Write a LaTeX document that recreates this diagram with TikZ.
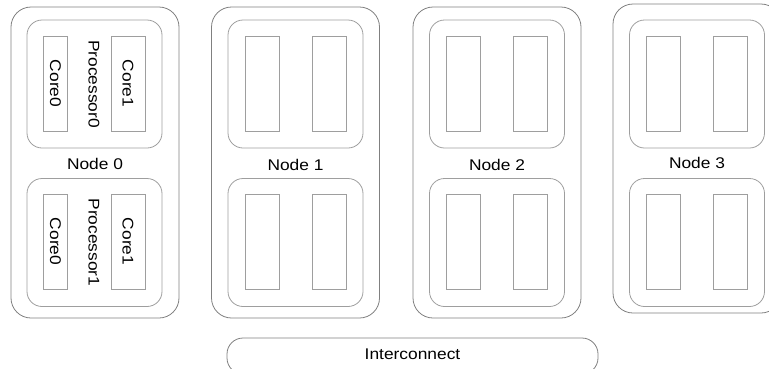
\documentclass[tikz,border=0pt]{standalone}
\usepackage{fontspec}
\setmainfont[FakeStretch=1.12]{Liberation Sans}
\usetikzlibrary{positioning}

\begin{document}
\begin{tikzpicture}[
        x=1pt,
        y=-1pt,
        font=\fontsize{15.5}{18}\selectfont,
        line width=0.8pt,
        machine/.style={draw=black!50, rounded corners=20pt, minimum width=168pt, minimum height=311pt, inner sep=0pt},
        socket/.style={draw=black!38, rounded corners=15pt, minimum width=135pt, minimum height=128pt, inner sep=0pt},
        core/.style={draw=black!38, minimum width=34pt, minimum height=95pt, inner sep=0pt},
        vtext/.style={rotate=-90, inner sep=0pt},
        link/.style={draw=black!50, rounded corners=16pt, minimum width=371pt, minimum height=36pt, inner sep=0pt}
    ]
        \useasboundingbox (0,0) rectangle (769,368);

        % Node 0, the one with its parts spelled out
        \node[machine] (node0) at (95,162.5) {};
        \node (lab0) at (95,164) {Node 0};
        \node[socket] (proc0a) at (94.5,84) {};
        \node[core, minimum width=24.5pt] (core0a0) at (55.5,83.5) {};
        \node[core] (core0a1) at (128,83.5) {};
        \node[vtext] (name0a) at (94,84) {Processor0};
        \node[vtext] at (core0a0) {Core0};
        \node[vtext] at (core0a1) {Core1};
        \node[socket] (proc0b) at (94.5,242.5) {};
        \node[core, minimum width=24.5pt] (core0b0) at (55.5,241.5) {};
        \node[core] (core0b1) at (128,241.5) {};
        \node[vtext] (name0b) at (94,242.5) {Processor1};
        \node[vtext] at (core0b0) {Core0};
        \node[vtext] at (core0b1) {Core1};

        % Nodes 1-3: same layout, no labels inside
        \foreach \i/\x/\y/\h/\t in {1/295.5/162.5/311/165, 2/497/162.5/311/164.5, 3/697/158.5/309/162.5} {
            \node[machine, minimum height=\h pt] (node\i) at (\x,\y) {};
            \node (lab\i) at (\x,\t) {Node \i};
            \foreach \s/\c in {a/84, b/242.5} {
                \node[socket] (proc\i\s) at (\x,\c) {};
                \node[core] (core\i\s0) at (\x-33.5,\c-0.5) {};
                \node[core] (core\i\s1) at (\x+33.5,\c-0.5) {};
            }
        }

        % shared link along the bottom
        \node[link] (bus) at (412.5,356) {\raisebox{3pt}{Interconnect}};
    \end{tikzpicture}
\end{document}
